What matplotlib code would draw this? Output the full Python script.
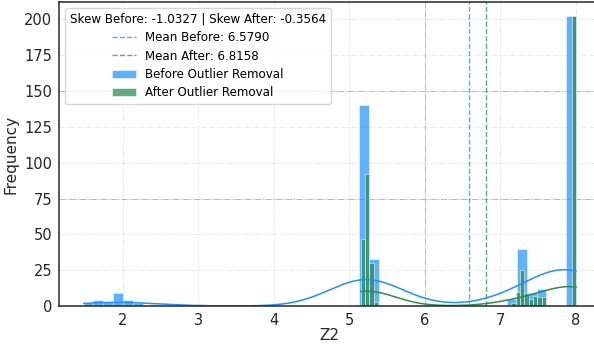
import numpy as np
import matplotlib
matplotlib.use('Agg')
import matplotlib.pyplot as plt
from matplotlib.ticker import MultipleLocator

# histogram of Z2 before / after outlier removal (50 bins each)
before_min, before_max = 1.485, 8.0
after_min, after_max = 5.152, 8.0
n_bins = 50

before_counts = [2, 4, 3, 9, 4, 2, 1, 1, 0, 0,
                 0, 0, 0, 0, 0, 0, 0, 0, 0, 0,
                 0, 0, 0, 0, 0, 0, 0, 0, 140, 33,
                 0, 0, 0, 0, 0, 0, 1, 0, 0, 0,
                 0, 0, 0, 5, 40, 9, 12, 0, 0, 202]
after_counts = [47, 92, 30, 3, 0, 0, 0, 0, 0, 0,
                0, 0, 0, 0, 0, 0, 0, 0, 1, 0,
                0, 0, 0, 0, 0, 0, 0, 0, 0, 0,
                0, 0, 0, 0, 1, 2, 10, 25, 9, 5,
                7, 6, 6, 0, 0, 0, 0, 0, 0, 202]

mean_before = 6.5790
mean_after = 6.8158
skew_before = -1.0327
skew_after = -0.3564

blue = '#1e90ff'
green = '#2e8b57'


def kde_curve(values, lo, hi, scale):
    # gaussian kde, scott bandwidth, scaled to counts like seaborn does
    values = np.asarray(values, dtype=float)
    bw = values.std(ddof=1) * len(values) ** (-1 / 5)
    xs = np.linspace(lo, hi, 200)
    dens = np.exp(-0.5 * ((xs[:, None] - values[None, :]) / bw) ** 2).sum(axis=1)
    dens = dens / (len(values) * bw * np.sqrt(2 * np.pi))
    return xs, dens * scale


fig = plt.figure(figsize=(5.94, 3.47), dpi=100)
ax = fig.add_axes([59 / 594, 41 / 347, 541.6 / 594, 304 / 347])

# grid
ax.set_axisbelow(True)
ax.grid(True, color='#bbbbbb', linestyle='-.', linewidth=0.6, alpha=0.35)
for yv in [75, 150]:
    ax.axhline(yv, color='#999999', linestyle='-.', linewidth=0.7, alpha=0.7, zorder=0)
for xv in [6]:
    ax.axvline(xv, color='#999999', linestyle='-.', linewidth=0.7, alpha=0.7, zorder=0)

bar_handles = []
for counts, lo, hi, col, alpha, lab in [
        (before_counts, before_min, before_max, blue, 0.7, 'Before Outlier Removal'),
        (after_counts, after_min, after_max, green, 0.75, 'After Outlier Removal')]:
    edges = np.linspace(lo, hi, n_bins + 1)
    centers = (edges[:-1] + edges[1:]) / 2
    _, _, patches = ax.hist(centers, bins=edges, weights=counts, color=col, alpha=alpha,
                            edgecolor='white', linewidth=0.5, label=lab)
    bar_handles.append(patches[0])
    vals = np.repeat(centers, counts)
    xs, ys = kde_curve(vals, vals.min() - (edges[1] - edges[0]) / 2,
                       vals.max() + (edges[1] - edges[0]) / 2,
                       len(vals) * (edges[1] - edges[0]))
    ax.plot(xs, ys, color=col, linewidth=1.1)

l1 = ax.axvline(mean_before, color=blue, linestyle='--', linewidth=1, alpha=0.75,
                label=f'Mean Before: {mean_before:.4f}')
l2 = ax.axvline(mean_after, color=green, linestyle='--', linewidth=1, alpha=0.75,
                label=f'Mean After: {mean_after:.4f}')

ax.yaxis.set_major_locator(MultipleLocator(25))
ax.tick_params(length=0, labelsize=10.5, labelcolor='#262626', pad=5)
for s in ax.spines.values():
    s.set_color('#262626')
    s.set_linewidth(1.1)

ax.set_xlabel('Z2', fontsize=11, color='#262626', labelpad=0)
ax.set_ylabel('Frequency', fontsize=11, color='#262626', labelpad=4)

handles = [l1, l2] + bar_handles
labels = [h.get_label() for h in handles]
ax.legend(handles, labels,
          title=f'Skew Before: {skew_before:.4f} | Skew After: {skew_after:.4f}',
          loc='upper left', fontsize=8.6, title_fontsize=8.6, labelspacing=0.45,
          framealpha=0.8, edgecolor='#cccccc', borderaxespad=0.5)

fig.savefig('out.png', dpi=100)
